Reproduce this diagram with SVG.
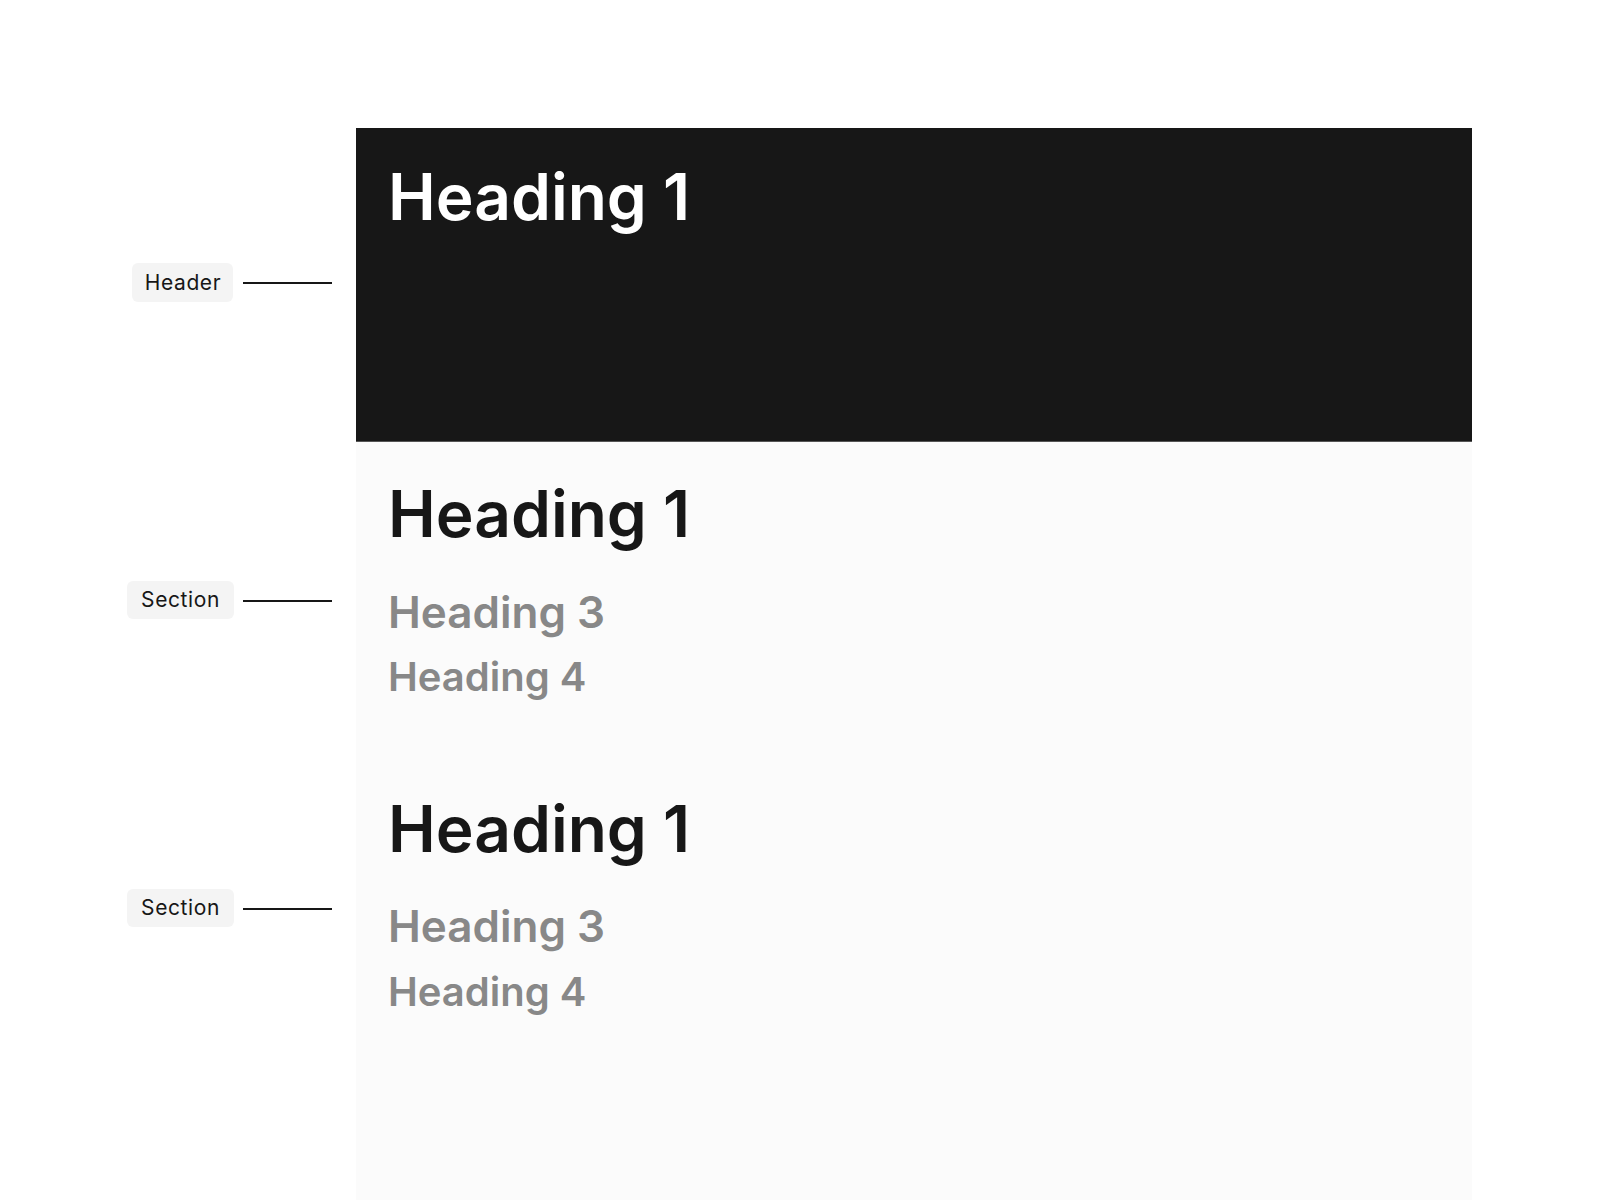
<svg xmlns="http://www.w3.org/2000/svg" width="1600" height="1200" viewBox="0 0 1600 1200">
<style>
.h1{font-family:Inter,"Noto Sans",sans-serif;font-weight:600;font-size:64px;fill:#171717}
.h1w{fill:#ffffff}
.h3{font-family:Inter,"Noto Sans",sans-serif;font-weight:600;font-size:44px;fill:#888888}
.h4{font-family:Inter,"Noto Sans",sans-serif;font-weight:600;font-size:40px;fill:#888888}
.lbl{font-family:Inter,"Noto Sans",sans-serif;font-size:21px;letter-spacing:0.6px;fill:#171717}
.pill{fill:#f4f4f4}
.conn{stroke:#171717;stroke-width:2;fill:none}
</style>
<rect width="1600" height="1200" fill="#ffffff"/>
<g id="page">
<rect x="356" y="442" width="1116" height="758" fill="#fbfbfb"/>
</g>
<g id="header">
<rect x="356" y="128" width="1116" height="314" fill="#171717"/>
<line x1="356" y1="441.5" x2="1472" y2="441.5" stroke="#555" stroke-width="1"/>
<text class="h1 h1w" x="388" y="220">Heading 1</text>
</g>
<g id="section1">
<text class="h1" x="388" y="537">Heading 1</text>
<text class="h3" x="388" y="628">Heading 3</text>
<text class="h4" x="388" y="691">Heading 4</text>
</g>
<g id="section2">
<text class="h1" x="388" y="852">Heading 1</text>
<text class="h3" x="388" y="942">Heading 3</text>
<text class="h4" x="388" y="1006">Heading 4</text>
</g>
<g id="label-header">
<rect class="pill" x="132" y="263" width="101" height="39" rx="6"/>
<text class="lbl" x="183" y="290" text-anchor="middle">Header</text>
</g>
<g id="label-section1">
<rect class="pill" x="127" y="581" width="107" height="38" rx="6"/>
<text class="lbl" x="180.5" y="607" text-anchor="middle">Section</text>
</g>
<g id="label-section2">
<rect class="pill" x="127" y="889" width="107" height="38" rx="6"/>
<text class="lbl" x="180.5" y="915" text-anchor="middle">Section</text>
</g>
<g id="connectors">
<line class="conn" x1="243" y1="283" x2="332" y2="283"/>
<line class="conn" x1="243" y1="601" x2="332" y2="601"/>
<line class="conn" x1="243" y1="909" x2="332" y2="909"/>
</g>
</svg>
